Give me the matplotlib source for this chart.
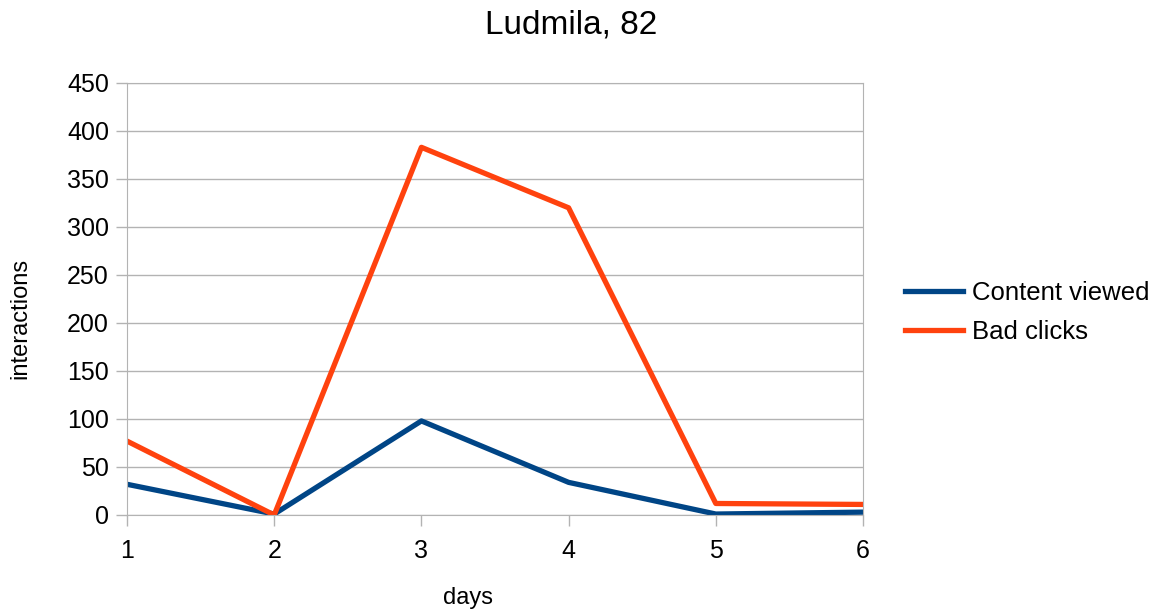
import matplotlib.pyplot as plt

days = [1, 2, 3, 4, 5, 6]
content_viewed = [32, 1, 98, 34, 1, 3]
bad_clicks = [77, 0, 383, 320, 12, 11]

plt.rcParams["font.family"] = ["Liberation Sans", "DejaVu Sans"]

W, H = 1159, 611
fig = plt.figure(figsize=(W / 100, H / 100), dpi=100)
ax = fig.add_axes([127 / W, 1 - 515 / H, (863 - 127) / W, (515 - 83) / H])

ax.plot(days, content_viewed, color="#004586", lw=3.8, label="Content viewed")
ax.plot(days, bad_clicks, color="#ff420e", lw=3.8, label="Bad clicks")

ax.set_xlim(1, 6)
ax.set_ylim(0, 450)
ax.set_yticks(range(0, 451, 50))
ax.set_xticks(days)
ax.yaxis.grid(True, color="#b3b3b3", lw=1)
ax.set_axisbelow(True)
for s in ax.spines.values():
    s.set_color("#b3b3b3")
ax.tick_params(colors="#b3b3b3", labelcolor="black", labelsize=18, length=8, width=1)
ax.tick_params(axis="x", pad=9)
ax.tick_params(axis="y", pad=5)

ax.set_xlabel("days", fontsize=17)
ax.xaxis.set_label_coords((468 - 127) / 736, (515 - 598) / 432)
ax.xaxis.label.set_va("center")
ax.set_ylabel("interactions", fontsize=17)
ax.yaxis.set_label_coords((20 - 127) / 736, (515 - 318) / 432)
ax.yaxis.label.set_va("center")

fig.text(571 / W, 1 - 25 / H, "Ludmila, 82", fontsize=24, ha="center", va="center")

fig.legend(loc="center left", bbox_to_anchor=(905 / W, 1 - 312.5 / H), frameon=False,
           fontsize=18.5, borderpad=0, borderaxespad=0, handlelength=2.26,
           handletextpad=0.35, labelspacing=0.55)

fig.savefig("out.png", dpi=100)
